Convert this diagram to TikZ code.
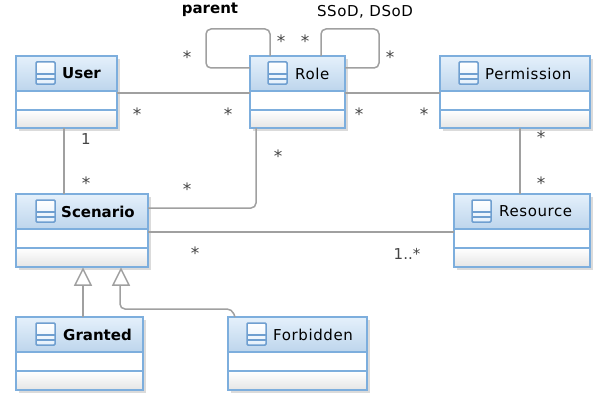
\documentclass[tikz,border=0pt]{standalone}
\usepackage{fontspec}
\setmainfont{DejaVu Sans}
\newfontfamily\regspaced[LetterSpace=4]{DejaVu Sans}
\newfontfamily\boldspaced[LetterSpace=0]{DejaVu Sans Bold}
\usetikzlibrary{arrows.meta}
\definecolor{edgeblue}{HTML}{7DAEDD}
\definecolor{headtop}{HTML}{E4F0FB}
\definecolor{headbot}{HTML}{BDD5EC}
\definecolor{footbot}{HTML}{E6E6E6}
\definecolor{iconblue}{HTML}{6F9FD0}
\definecolor{wire}{HTML}{A0A0A0}
\definecolor{starc}{HTML}{444444}
\tikzset{
  x=1pt,y=-1pt,
  classbox/.style={draw=edgeblue,line width=1.5pt,fill=white,inner sep=0pt,outer sep=0pt,anchor=north west},
  classtitle/.style={inner sep=0pt,anchor=west,text=black,font=\fontsize{15}{17}\selectfont},
  wireline/.style={draw=wire,line width=1.5pt,rounded corners=5pt},
  gentip/.style={draw=wire,line width=1.5pt,fill=white},
  mult/.style={inner sep=0pt,text=starc,font=\fontsize{15}{17}\selectfont},
  starlabel/.style={inner sep=0pt,text=starc,font=\fontsize{17}{19}\selectfont},
  rolelabel/.style={inner sep=0pt,text=black,font=\fontsize{15}{17}\selectfont},
}
% name, left, top, width, height, icon x, title x, title font
\newcommand{\umlclass}[8]{%
  \fill[black!14] (#2+3,#3+3) rectangle (#2+#4+3,#3+#5+3);
  \node[classbox,minimum width=#4pt,minimum height=#5pt] (#1) at (#2,#3) {};
  \path[top color=headtop,bottom color=headbot] (#2+.5,#3+.5) rectangle (#2+#4-.5,#3+35);
  \path[top color=white,bottom color=footbot] (#2+.5,#3+54) rectangle (#2+#4-.5,#3+#5-.5);
  \draw[edgeblue,line width=1.5pt] (#2,#3) rectangle (#2+#4,#3+#5);
  \draw[edgeblue,line width=1.5pt] (#2,#3+35) -- (#2+#4,#3+35);
  \draw[edgeblue,line width=1.5pt] (#2,#3+54) -- (#2+#4,#3+54);
  \path[top color=white,bottom color=headtop,draw=iconblue,line width=1.5pt,rounded corners=1pt] (#6,#3+6) rectangle (#6+19,#3+28);
  \draw[iconblue,line width=1.2pt] (#6,#3+18) -- (#6+19,#3+18) (#6,#3+23) -- (#6+19,#3+23);
  \node[classtitle] (#1-title) at (#7,#3+17.5) {#8};
  \coordinate (#1-hl) at (#2,#3+37);
  \coordinate (#1-hr) at (#2+#4,#3+37);
}
\begin{document}
\begin{tikzpicture}
\useasboundingbox (0,0) rectangle (597,396);
\fill[white] (0,0) rectangle (597,396);
\umlclass{user}{16}{56}{101}{72}{36}{62}{\boldspaced User}
\umlclass{role}{250}{56}{95}{72}{268}{295}{\regspaced Role}
\umlclass{permission}{440}{56}{150}{72}{459}{485}{\regspaced Permission}
\umlclass{scenario}{16}{194}{132}{73}{36}{61}{\boldspaced Scenario}
\umlclass{resource}{454}{194}{136}{73}{472}{499}{\regspaced Resource}
\umlclass{granted}{16}{317}{127}{73}{36}{63}{\boldspaced Granted}
\umlclass{forbidden}{228}{317}{139}{73}{247}{273}{\regspaced Forbidden}
% connectors
\coordinate (umbend) at (64,128);
\coordinate (rsbend) at (256,208);
\coordinate (parenta) at (270,29);
\coordinate (parentb) at (206,29);
\coordinate (parentc) at (206,68);
\coordinate (ssoda) at (321,29);
\coordinate (ssodb) at (379,29);
\coordinate (ssodc) at (379,68);
\coordinate (gtip) at (83,269);
\coordinate (ftip) at (121,269);
\draw[wireline] (user-hr) -- (role-hl);
\draw[wireline] (role-hr) -- (permission-hl);
\draw[wireline] (umbend) -- (umbend |- scenario.north);
\draw[wireline] (role.south west -| 256,0) -- (rsbend) -- (scenario.north east |- rsbend);
\draw[wireline] (scenario.north east |- 0,232) -- (resource.north west |- 0,232);
\draw[wireline] (permission.south west -| 520,0) -- (resource.north west -| 520,0);
\draw[wireline] (parenta |- role.north) -- (parenta) -- (parentb) -- (parentc) -- (role.north west |- parentc);
\draw[wireline] (ssoda |- role.north) -- (ssoda) -- (ssodb) -- (ssodc) -- (role.north east |- ssodc);
\draw[wireline] (gtip |- granted.north) -- (83,285);
\draw[gentip] (gtip) -- (75,285) -- (91,285) -- cycle;
\draw[wireline] (120,285) -- (120,309) -- (232,309) -- (235,317);
\draw[gentip] (ftip) -- (113,285) -- (129,285) -- cycle;
% labels
\node[rolelabel] (lparent) at (210,10) {\boldspaced parent};
\node[rolelabel] (lssod) at (365,12) {\regspaced SSoD, DSoD};
\node[starlabel] (m1) at (187,57) {*};
\node[starlabel] (m2) at (281,41) {*};
\node[starlabel] (m3) at (305,41) {*};
\node[starlabel] (m4) at (390,57) {*};
\node[starlabel] (m5) at (137,114) {*};
\node[starlabel] (m6) at (228,114) {*};
\node[starlabel] (m7) at (359,114) {*};
\node[starlabel] (m8) at (424,114) {*};
\node[mult] (m9) at (86,139) {1};
\node[starlabel] (m10) at (86,183) {*};
\node[starlabel] (m11) at (187,189) {*};
\node[starlabel] (m12) at (278,156) {*};
\node[starlabel] (m13) at (541,137) {*};
\node[starlabel] (m14) at (541,183) {*};
\node[starlabel] (m15) at (195,253) {*};
\node[mult] (m16) at (407,254) {1..*};
\end{tikzpicture}
\end{document}
